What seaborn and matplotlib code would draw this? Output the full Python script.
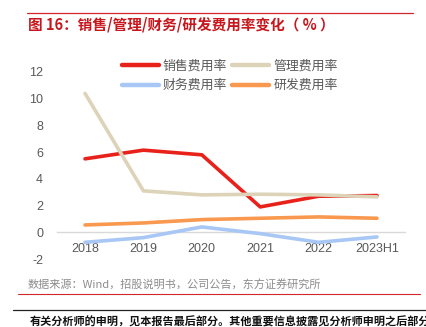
import matplotlib
matplotlib.use("Agg")
import matplotlib.pyplot as plt
import seaborn as sns
import pandas as pd
from matplotlib.lines import Line2D

sns.set_theme(style="white")
plt.rcParams['font.family'] = ['Liberation Sans', 'Noto Sans CJK SC', 'DejaVu Sans']

years = ["2018", "2019", "2020", "2021", "2022", "2023H1"]
series_names = ["销售费用率", "管理费用率", "财务费用率", "研发费用率"]
sales = [5.5, 6.15, 5.8, 1.9, 2.7, 2.75]
admin = [10.4, 3.1, 2.8, 2.85, 2.8, 2.65]
finance = [-0.75, -0.4, 0.4, -0.1, -0.75, -0.35]
rnd = [0.55, 0.7, 0.95, 1.05, 1.15, 1.05]
colors = ["#E8211B", "#DDD3B9", "#A8C7F5", "#F8994F"]
yticks = [-2, 0, 2, 4, 6, 8, 10, 12]

df = pd.DataFrame({"year": years * 4,
                   "series": sum([[n] * len(years) for n in series_names], []),
                   "value": sales + admin + finance + rnd})

fig = plt.figure(figsize=(4.27, 3.27), dpi=100)
W, H = 427, 327
ax = fig.add_axes([57 / W, (H - 259) / H, (405 - 57) / W, (259 - 72) / H])

sns.lineplot(data=df, x="year", y="value", hue="series", hue_order=series_names,
             palette=colors, linewidth=2.6, sort=False, ax=ax, legend=False)

ax.set_xlim(-0.48, 5.48)
ax.set_ylim(-2, 12)
ax.set_yticks(yticks)
ax.set_yticklabels([str(t) for t in yticks])
for s in ["top", "right", "left"]:
    ax.spines[s].set_visible(False)
ax.spines["bottom"].set_position(("data", 0))
ax.spines["bottom"].set_color("#D9D9D9")
ax.spines["bottom"].set_linewidth(1.0)
ax.spines["bottom"].set_zorder(0)
ax.tick_params(axis="both", length=0, labelsize=9, colors="#595959")
ax.tick_params(axis="x", pad=8)
ax.tick_params(axis="y", pad=10)
ax.set_xlabel("")
ax.set_ylabel("")
ax.patch.set_alpha(0)

# legend, two rows: 销售/管理 on top, 财务/研发 below (legend fills column by column)
order = [0, 2, 1, 3]
handles = [Line2D([0], [0], color=colors[i], lw=3.2) for i in order]
labels = [series_names[i] for i in order]
leg = fig.legend(handles, labels, loc="upper left", bbox_to_anchor=(110 / W, 1 - 48 / H),
                 ncol=2, frameon=False, handlelength=2.9, handletextpad=0.3,
                 columnspacing=0.35, labelspacing=0.5, prop={"family": "Noto Sans CJK SC", "size": 9.3})
for t in leg.get_texts():
    t.set_color("#595959")

# header and footer
fig.add_artist(Line2D([27 / W, 413 / W], [1 - 13 / H, 1 - 13 / H], color="#D0262D", lw=0.9))
fig.text(28 / W, 1 - 25 / H, "图 16：销售/管理/财务/研发费用率变化（ % ）", color="#C8161D",
         fontsize=10.5, fontweight="bold", va="center", ha="left",
         family=["Noto Sans CJK SC", "DejaVu Sans"])
fig.text(28 / W, 1 - 285 / H, "数据来源：Wind，招股说明书，公司公告，东方证券研究所", color="#8C8C8C",
         fontsize=8, va="center", ha="left", family=["Noto Sans CJK SC", "DejaVu Sans"])
fig.add_artist(Line2D([18 / W, 420 / W], [1 - 294 / H, 1 - 294 / H], color="#D0262D", lw=0.8))
fig.add_artist(Line2D([13 / W, 1.0], [1 - 310 / H, 1 - 310 / H], color="#222222", lw=0.9))
fig.text(30 / W, 1 - 322 / H,
         "有关分析师的申明，见本报告最后部分。其他重要信息披露见分析师申明之后部分",
         color="#111111", fontsize=8, fontweight="bold", va="center", ha="left",
         family=["Noto Sans CJK SC", "DejaVu Sans"])

fig.savefig("out.png", dpi=100)
